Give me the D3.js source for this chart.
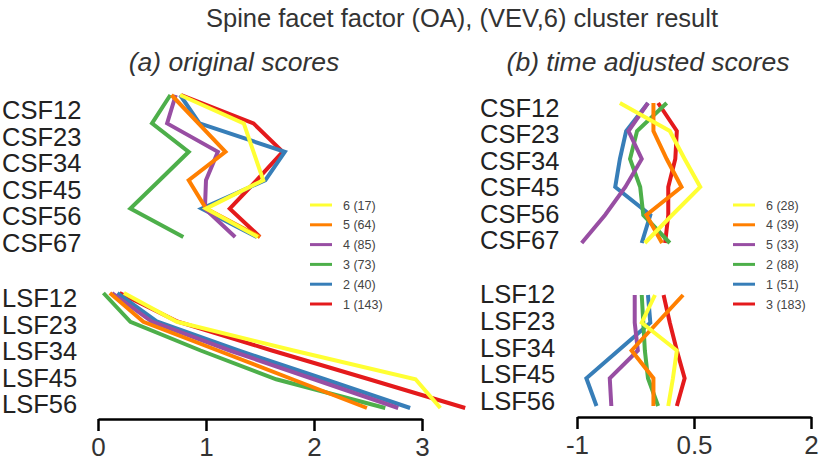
<!DOCTYPE html>
<html>
<head>
<meta charset="utf-8">
<script src="https://cdn.jsdelivr.net/npm/d3@7"></script>
<style>
  body { margin: 0; background: #fff; }
  text { font-family: "Liberation Sans", Arial, sans-serif; }
</style>
</head>
<body>
<script>
var w = 822;
var h = 476;

// row names
var csfRows = ["CSF12", "CSF23", "CSF34", "CSF45", "CSF56", "CSF67"];
var lsfRows = ["LSF12", "LSF23", "LSF34", "LSF45", "LSF56"];

// cluster colours, in legend order (top to bottom)
var colors = ["#ffff33", "#ff7f00", "#984ea3", "#4daf4a", "#377eb8", "#e41a1c"];

// (a) original scores
var origLegend = ["6 (17)", "5 (64)", "4 (85)", "3 (73)", "2 (40)", "1 (143)"];
var origCSF = [
    [0.76, 1.35, 1.44, 1.53, 1.00, 1.48],
    [0.68, 0.93, 1.18, 0.84, 1.00, 1.50],
    [0.72, 0.64, 1.11, 1.00, 0.99, 1.27],
    [0.67, 0.50, 0.84, 0.57, 0.30, 0.79],
    [0.76, 0.94, 1.73, 1.55, 0.96, 1.47],
    [0.77, 1.44, 1.71, 1.47, 1.22, 1.50]
];
var origLSF = [
    [0.24, 0.73, 1.81, 2.94, 3.17],
    [0.11, 0.42, 1.11, 1.80, 2.49],
    [0.13, 0.50, 1.22, 2.00, 2.78],
    [0.05, 0.30, 0.95, 1.65, 2.66],
    [0.18, 0.55, 1.30, 2.10, 2.89],
    [0.20, 0.74, 1.61, 2.51, 3.40]
];
var origTicks = [0, 1, 2, 3];

// (b) time adjusted scores
var adjLegend = ["6 (28)", "4 (39)", "5 (33)", "2 (88)", "1 (51)", "3 (183)"];
var adjCSF = [
    [-0.45, 0.19, 0.38, 0.58, 0.22, -0.13],
    [-0.02, -0.02, 0.15, 0.34, -0.11, 0.09],
    [-0.09, -0.34, -0.17, -0.38, -0.64, -0.94],
    [0.15, -0.23, -0.32, -0.19, -0.15, 0.19],
    [-0.09, -0.37, -0.45, -0.51, -0.06, -0.17],
    [0.04, 0.28, 0.26, 0.17, 0.17, 0.13]
];
var adjLSF = [
    [0.00, -0.17, 0.28, 0.23, 0.17],
    [0.36, 0.03, -0.30, -0.02, -0.02],
    [-0.26, -0.26, -0.22, -0.58, -0.56],
    [-0.17, -0.15, -0.13, -0.09, 0.04],
    [-0.09, -0.06, -0.47, -0.88, -0.75],
    [0.11, 0.19, 0.28, 0.38, 0.28]
];
var adjTicks = [-1, 0.5, 2];

var svg = d3.select("body")
    .append("svg")
    .attr("width", w)
    .attr("height", h);

// title
svg.append("text")
    .attr("x", 462)
    .attr("y", 27)
    .attr("text-anchor", "middle")
    .attr("font-size", 25.5)
    .attr("fill", "#333")
    .text("Spine facet factor (OA), (VEV,6) cluster result");

function panel(opt) {
    var g = svg.append("g");

    g.append("text")
        .attr("x", opt.subX)
        .attr("y", 71)
        .attr("text-anchor", "middle")
        .attr("font-size", 26.5)
        .attr("font-style", "italic")
        .attr("fill", "#333")
        .text(opt.subtitle);

    var x = d3.scaleLinear().domain(opt.domain).range(opt.range);

    var yC = d3.scalePoint().domain(csfRows).range(opt.csfY);
    var yL = d3.scalePoint().domain(lsfRows).range(opt.lsfY);
    var labC = d3.scalePoint().domain(csfRows).range(opt.csfLab);
    var labL = d3.scalePoint().domain(lsfRows).range(opt.lsfLab);

    // row labels
    g.selectAll("text.csf")
        .data(csfRows)
        .enter()
        .append("text")
        .attr("class", "csf")
        .attr("x", opt.labX)
        .attr("y", function(d) { return labC(d); })
        .attr("font-size", 25.5)
        .attr("fill", "#222")
        .text(function(d) { return d; });

    g.selectAll("text.lsf")
        .data(lsfRows)
        .enter()
        .append("text")
        .attr("class", "lsf")
        .attr("x", opt.labX)
        .attr("y", function(d) { return labL(d); })
        .attr("font-size", 25.5)
        .attr("fill", "#222")
        .text(function(d) { return d; });

    var lineC = d3.line()
        .x(function(d) { return x(d); })
        .y(function(d, i) { return yC(csfRows[i]); });
    var lineL = d3.line()
        .x(function(d) { return x(d); })
        .y(function(d, i) { return yL(lsfRows[i]); });

    // draw from the last legend entry up so the first one ends on top
    var order = d3.range(colors.length).reverse();
    order.forEach(function(k) {
        g.append("path")
            .attr("d", lineC(opt.csf[k]))
            .attr("fill", "none")
            .attr("stroke", colors[k])
            .attr("stroke-width", 4)
            .attr("stroke-linejoin", "miter");
        g.append("path")
            .attr("d", lineL(opt.lsf[k]))
            .attr("fill", "none")
            .attr("stroke", colors[k])
            .attr("stroke-width", 4)
            .attr("stroke-linejoin", "miter");
    });

    // legend
    var leg = g.selectAll("g.leg")
        .data(opt.legend)
        .enter()
        .append("g")
        .attr("class", "leg")
        .attr("transform", function(d, i) { return "translate(" + opt.legX + "," + (205 + i * 19.8) + ")"; });
    leg.append("line")
        .attr("x1", 0).attr("x2", 22)
        .attr("stroke", function(d, i) { return colors[i]; })
        .attr("stroke-width", 3);
    leg.append("text")
        .attr("x", 33)
        .attr("y", 4.5)
        .attr("font-size", 12.5)
        .attr("fill", "#444")
        .text(function(d) { return d; });

    // x axis
    var ax = g.append("g")
        .attr("transform", "translate(0," + opt.axisY + ")")
        .call(d3.axisBottom(x).tickValues(opt.ticks).tickSize(12).tickSizeOuter(0)
            .tickFormat(function(d) { return String(d); }));
    ax.select(".domain").attr("stroke", "#000").attr("stroke-width", 2.5);
    ax.selectAll(".tick line").attr("stroke", "#000").attr("stroke-width", 2.5);
    ax.selectAll(".tick text")
        .attr("font-family", "Liberation Sans, Arial, sans-serif")
        .attr("font-size", 26)
        .attr("fill", "#333")
        .attr("dy", null)
        .attr("y", 37);
}

panel({
    subtitle: "(a) original scores",
    subX: 234,
    domain: [0, 3],
    range: [98, 422],
    ticks: origTicks,
    csfY: [95, 237],
    lsfY: [293, 408],
    csfLab: [119, 252],
    lsfLab: [307, 413],
    labX: 2,
    csf: origCSF,
    lsf: origLSF,
    legend: origLegend,
    legX: 310,
    axisY: 419
});

panel({
    subtitle: "(b) time adjusted scores",
    subX: 648,
    domain: [-1, 2],
    range: [577, 811],
    ticks: adjTicks,
    csfY: [103, 243],
    lsfY: [295, 406],
    csfLab: [117, 249],
    lsfLab: [303, 410],
    labX: 480,
    csf: adjCSF,
    lsf: adjLSF,
    legend: adjLegend,
    legX: 733,
    axisY: 417
});
</script>
</body>
</html>
